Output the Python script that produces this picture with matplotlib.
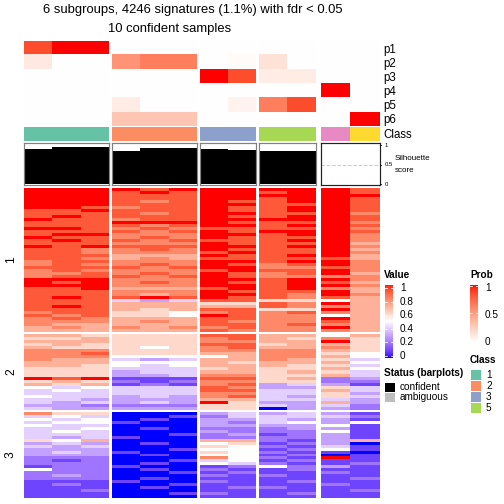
import numpy as np
import matplotlib
matplotlib.use("Agg")
import matplotlib.pyplot as plt
import matplotlib.colors as mcolors
from matplotlib.colors import ListedColormap

plt.rcParams['font.family'] = ['Liberation Sans', 'DejaVu Sans']

W = H = 504

# --- data -----------------------------------------------------------------
group_labels = ["1", "2", "3", "5", "ambiguous"]
n_cols = [3, 3, 2, 2, 2]

p_names = ["p1", "p2", "p3", "p4", "p5", "p6"]
p1 = [0.85, 1, 1, 0, 0, 0, 0, 0, 0, 0, 0, 0]
p2 = [0.12, 0, 0, 0.55, 0.65, 0.65, 0, 0.02, 0.15, 0, 0, 0]
p3 = [0, 0, 0, 0, 0, 0, 1, 0.85, 0.1, 0.1, 0, 0]
p4 = [0, 0, 0, 0, 0, 0, 0, 0, 0, 0, 1, 0]
p5 = [0, 0, 0, 0.1, 0, 0, 0, 0.06, 0.65, 0.85, 0, 0]
p6 = [0, 0, 0, 0.3, 0.3, 0.3, 0, 0, 0, 0, 0, 1]

sample_class = ["1", "1", "1", "2", "2", "2", "3", "3", "5", "5", "4", "6"]
class_colors = {"1": "#66C2A5", "2": "#FC8D62", "3": "#8DA0CB",
                "4": "#E78AC3", "5": "#A6D854", "6": "#FFD92F"}
legend_classes = ["1", "2", "3", "5"]

silhouette = [0.9, 0.96, 0.96, 0.85, 0.94, 0.94, 0.9, 0.88, 0.85, 0.85, 0, 0]

# signature rows, one character per sample: digit = value * 10, X = 1
slice1 = [
    "XXX X9X XX XX X9", "XXX 9X9 XX 9X X9", "XXX 999 XX XX XX", "XXX 999 XX 9X X9",
    "XXX 989 X9 9X X9", "XXX 999 XX 99 X9", "XX9 899 X9 9X X9", "99X 999 X9 9X X9",
    "999 989 XX 99 X8", "9X9 999 X9 9X X9", "X99 899 XX XX X9", "999 XXX X9 99 X8",
    "999 989 XX 9X X9", "XX9 898 99 99 X8", "999 989 X9 XX X9", "9XX 888 XX 9X X8",
    "X99 898 X9 99 X8", "9X9 989 99 9X X8", "999 888 X9 99 X7", "X9X 999 XX 9X X8",
    "998 898 X9 99 X7", "998 888 9X 99 X8", "999 777 X9 9X X7", "998 787 99 99 97",
    "899 888 XX 9X X8", "898 898 X9 89 X8", "999 989 XX 88 98", "898 888 9X 99 X8",
    "889 898 X9 89 X7", "899 989 X9 88 88", "XXX 888 XX 9X X8", "X9X 898 X9 9X 97",
    "XXX 888 XX 9X X8", "99X 777 9X 9X 87", "999 888 X9 99 X7", "999 878 XX 98 X8",
    "9X9 9X9 X9 98 97", "999 434 99 66 57", "999 777 66 98 X7", "9X9 777 77 98 87",
    "999 767 99 66 X7", "899 665 89 89 87", "989 665 X9 88 57", "898 777 99 88 X7",
    "888 787 98 88 97", "877 777 99 89 87", "787 878 89 88 X7", "777 777 98 88 87",
]
slice2 = [
    "776 666 99 77 57", "667 666 89 76 86", "777 666 88 77 X6", "676 666 99 67 76",
    "766 656 89 77 86", "888 666 88 88 76", "889 666 77 88 65", "888 555 57 88 75",
    "877 434 77 87 64", "777 555 76 77 75", "776 545 77 76 64", "666 444 67 66 75",
    "666 344 77 67 64", "666 334 88 66 74", "X9X 111 99 67 23", "676 212 88 66 22",
    "767 121 89 34 31", "545 444 98 33 64", "454 444 99 44 74", "444 444 88 44 63",
    "544 343 89 43 64", "443 333 77 44 43", "434 343 X6 33 73", "332 222 66 43 42",
    "433 333 66 03 32",
]
slice3 = [
    "866 000 34 34 31", "454 001 24 44 42", "545 010 33 43 31", "455 100 32 45 35",
    "544 000 33 33 51", "445 010 22 23 31", "454 000 32 22 51", "444 001 23 12 31",
    "434 100 22 22 31", "657 000 77 21 37", "343 010 56 12 30", "434 000 65 21 41",
    "333 001 55 12 51", "343 100 65 21 10", "333 010 55 12 01", "222 000 85 21 X1",
    "212 001 45 12 11", "222 010 54 21 12", "122 100 12 52 31", "522 010 21 12 11",
    "222 001 12 11 21", "232 000 21 21 11", "222 010 11 11 12", "111 100 21 12 11",
    "121 001 11 11 21", "111 010 12 21 11", "112 000 11 11 12", "111 001 21 12 11",
    "111 000 11 11 11",
]

# --- colour ramps in LAB space (like colorRamp2) ---------------------------
M = np.array([[0.4124, 0.3576, 0.1805], [0.2126, 0.7152, 0.0722], [0.0193, 0.1192, 0.9505]])
WHITE = np.array([0.95047, 1.0, 1.08883])
d = 6 / 29


def to_lab(rgb):
    c = np.asarray(rgb, float)
    lin = np.where(c <= 0.04045, c / 12.92, ((c + 0.055) / 1.055) ** 2.4)
    xyz = M @ lin / WHITE
    f = np.where(xyz > d ** 3, np.cbrt(xyz), xyz / (3 * d * d) + 4 / 29)
    return np.array([116 * f[1] - 16, 500 * (f[0] - f[1]), 200 * (f[1] - f[2])])


def from_lab(lab):
    fy = (lab[0] + 16) / 116
    f = np.array([fy + lab[1] / 500, fy, fy - lab[2] / 200])
    xyz = np.where(f > d, f ** 3, 3 * d * d * (f - 4 / 29)) * WHITE
    lin = np.clip(np.linalg.solve(M, xyz), 0, 1)
    c = np.where(lin <= 0.0031308, 12.92 * lin, 1.055 * lin ** (1 / 2.4) - 0.055)
    return np.clip(c, 0, 1)


def lab_cmap(stops):
    labs = [to_lab(mcolors.to_rgb(s)) for s in stops]
    out = []
    for t in np.linspace(0, 1, 256):
        pos = t * (len(stops) - 1)
        i = min(int(pos), len(stops) - 2)
        u = pos - i
        out.append(from_lab(labs[i] * (1 - u) + labs[i + 1] * u))
    return ListedColormap(out)


value_cmap = lab_cmap(["blue", "white", "red"])
prob_cmap = lab_cmap(["white", "red"])


def parse(rows):
    return np.array([[1.0 if ch == "X" else int(ch) / 10 for ch in r.replace(" ", "")]
                     for r in rows])


# --- layout helpers (pixel coords, origin top-left) ------------------------
fig = plt.figure(figsize=(7, 7), dpi=72)


def px_axes(x0, y0, x1, y1):
    ax = fig.add_axes([x0 / W, 1 - y1 / H, (x1 - x0) / W, (y1 - y0) / H])
    return ax


def txt(x, y, s, **kw):
    kw.setdefault("va", "center")
    kw.setdefault("fontsize", 10)
    fig.text(x / W, 1 - y / H, s, **kw)


def colorbar(x0, y0, x1, y1, cmap, breaks):
    ax = px_axes(x0, y0, x1, y1)
    ax.imshow(np.linspace(1, 0, 200)[:, None], aspect="auto", cmap=cmap, vmin=0, vmax=1,
              extent=[0, 1, 0, 1])
    for b in breaks:
        ax.plot([0, 0.2], [b, b], color="white", lw=0.8)
        ax.plot([0.8, 1], [b, b], color="white", lw=0.8)
    ax.set_xlim(0, 1)
    ax.set_ylim(0, 1)
    ax.axis("off")


group_x = [(24, 109), (112, 197), (200, 256), (259, 316), (321, 380)]
starts = np.cumsum([0] + n_cols)

probs = np.array([p1, p2, p3, p4, p5, p6])
mats = [parse(s) for s in (slice1, slice2, slice3)]
slice_y = [(188, 332), (334, 410), (412, 498)]

for g, (x0, x1) in enumerate(group_x):
    cols = slice(starts[g], starts[g + 1])

    ax = px_axes(x0, 41, x1, 126)
    ax.imshow(probs[:, cols], aspect="auto", cmap=prob_cmap, vmin=0, vmax=1,
              interpolation="nearest")
    ax.axis("off")

    ax = px_axes(x0, 127, x1, 141)
    rgb = np.array([[mcolors.to_rgb(class_colors[c]) for c in sample_class[cols]]])
    ax.imshow(rgb, aspect="auto", interpolation="nearest")
    ax.axis("off")

    ax = px_axes(x0, 143, x1, 185)
    vals = silhouette[cols]
    ax.axhline(0.5, ls="--", color="#cccccc", lw=1, zorder=0)
    ax.bar(np.arange(len(vals)), vals, width=1, color="black", zorder=2)
    ax.set_xlim(-0.5, len(vals) - 0.5)
    ax.set_ylim(-0.02, 1.06)
    ax.set_xticks([])
    ax.set_yticks([])
    for sp in ax.spines.values():
        sp.set_color("#222222" if g == 4 else "#808080")
        sp.set_linewidth(1.2)

    for mat, (y0, y1) in zip(mats, slice_y):
        ax = px_axes(x0, y0, x1, y1)
        ax.imshow(mat[:, cols], aspect="auto", cmap=value_cmap, vmin=0, vmax=1,
                  interpolation="nearest")
        ax.axis("off")

# silhouette axis on the right
ax = px_axes(380, 143, 384, 185)
ax.set_ylim(-0.02, 1.06)
ax.set_xlim(0, 4)
ax.axis("off")
for v, lab in [(1, "1"), (0.5, "0.5"), (0, "0")]:
    ax.plot([0, 1], [v, v], color="black", lw=0.8, clip_on=False)
    txt(385, 184.3 - v * 39, lab, fontsize=6)
txt(395, 159, "Silhouette", fontsize=8)
txt(395, 171, "score", fontsize=8)

# titles and labels
txt(193, 10, "6 subgroups, 4246 signatures (1.1%) with fdr < 0.05", fontsize=13, ha="center")
txt(170, 29, "10 confident samples", fontsize=13, ha="center")
for i, name in enumerate(p_names):
    txt(383, 48.5 + 14.17 * i + 1, name, fontsize=11.5)
txt(383, 135, "Class", fontsize=11.5)
for name, (y0, y1) in zip(["1", "2", "3"], slice_y):
    txt(11, (y0 + y1) / 2, name, fontsize=12, rotation=90, ha="center")

# legend: Value
txt(384, 275, "Value", fontweight="bold")
value_breaks = [1, 0.8, 0.6, 0.4, 0.2, 0]
colorbar(385, 285, 393, 358, value_cmap, [(b * 68 + 2) / 73 for b in value_breaks])
for v in value_breaks:
    txt(400, 288 + (1 - v) * 68, f"{v:g}")

# legend: Prob
txt(470, 275, "Prob", fontweight="bold")
prob_breaks = [1, 0.5, 0]
colorbar(470, 285, 478, 342, prob_cmap, [(b * 54 + 2) / 57 for b in prob_breaks])
for v in prob_breaks:
    txt(485, 288 + (1 - v) * 54, f"{v:g}")

# legend: Class
txt(470, 360, "Class", fontweight="bold")
for i, c in enumerate(legend_classes):
    ax = px_axes(471, 370 + 11 * i, 481, 380 + 11 * i)
    ax.set_facecolor(class_colors[c])
    ax.set_xticks([])
    ax.set_yticks([])
    for sp in ax.spines.values():
        sp.set_visible(False)
    txt(486, 375 + 11 * i, c)

# legend: Status
txt(384, 373, "Status (barplots)", fontweight="bold")
for i, (lab, col) in enumerate([("confident", "black"), ("ambiguous", "#BEBEBE")]):
    ax = px_axes(385, 383 + 10 * i, 395, 392 + 10 * i)
    ax.set_facecolor(col)
    ax.set_xticks([])
    ax.set_yticks([])
    for sp in ax.spines.values():
        sp.set_visible(False)
    txt(400, 387.5 + 10 * i, lab)

fig.savefig("out.png", dpi=72)
